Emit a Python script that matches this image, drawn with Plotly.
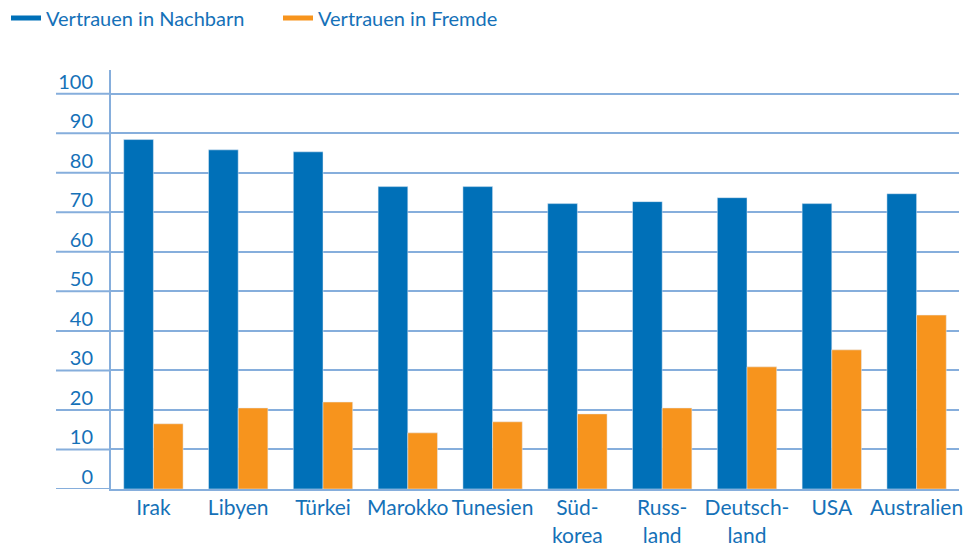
import plotly.graph_objects as go

categories = ["Irak", "Libyen", "Türkei", "Marokko", "Tunesien",
              "Süd-<br>korea", "Russ-<br>land", "Deutsch-<br>land", "USA", "Australien"]
nachbarn = [88.4, 85.8, 85.3, 76.5, 76.5, 72.2, 72.7, 73.7, 72.2, 74.7]
fremde = [16.5, 20.5, 22.0, 14.2, 17.0, 19.0, 20.5, 30.9, 35.2, 44.0]
tick_values = [0, 10, 20, 30, 40, 50, 60, 70, 80, 90, 100]
tick_labels = ["0", "10", "20", "30", "40", "50", "60", "70", "80", "90", "100"]

BLUE = "#0070b8"
ORANGE = "#f7941d"
GRID = "#86aedc"
TEXT = "#1571b8"
FONT = "Lato"

fig = go.Figure()
fig.add_trace(go.Bar(x=categories, y=nachbarn, marker_color=BLUE, name="Vertrauen in Nachbarn",
                     showlegend=False, hoverinfo="skip"))
fig.add_trace(go.Bar(x=categories, y=fremde, marker_color=ORANGE, name="Vertrauen in Fremde",
                     showlegend=False, hoverinfo="skip"))
# legend entries drawn as short lines
fig.add_trace(go.Scatter(x=[None], y=[None], mode="lines", line=dict(color=BLUE, width=5),
                         name="Vertrauen in Nachbarn"))
fig.add_trace(go.Scatter(x=[None], y=[None], mode="lines", line=dict(color=ORANGE, width=5),
                         name="Vertrauen in Fremde"))

# gridline extensions to the left of the y axis (under the tick labels)
ext = -(111 - 56) / 848
for v in tick_values:
    fig.add_shape(type="line", xref="paper", yref="y", x0=ext, x1=0, y0=v, y1=v,
                  line=dict(color=GRID, width=2), layer="below")

fig.update_layout(
    width=963, height=544,
    margin=dict(l=111, r=4, t=70, b=55, autoexpand=False),
    paper_bgcolor="white", plot_bgcolor="white",
    barmode="group", bargap=0.3, bargroupgap=0,
    font=dict(family=FONT, color=TEXT, size=21),
    showlegend=True,
    legend=dict(orientation="h", xref="container", yref="container",
                x=6 / 963, y=1 - 18 / 544, xanchor="left", yanchor="middle",
                font=dict(size=20, color=TEXT, family=FONT),
                entrywidth=227, bgcolor="rgba(0,0,0,0)"),
    xaxis=dict(showline=True, linecolor=GRID, linewidth=2, ticks="", automargin=False,
               ticklabelstandoff=-1,
               tickfont=dict(size=21, color=TEXT), showgrid=False),
    yaxis=dict(range=[0, 106], tickvals=tick_values, ticktext=tick_labels, automargin=False,
               showgrid=True, gridcolor=GRID, gridwidth=2, zeroline=False,
               showline=True, linecolor=GRID, linewidth=2, ticks="",
               ticklabelshift=-12, ticklabelstandoff=12,
               tickfont=dict(size=20, color=TEXT)),
)

fig.write_html("out.html", config={"displayModeBar": False},
               post_script="document.body.style.margin='0';")
